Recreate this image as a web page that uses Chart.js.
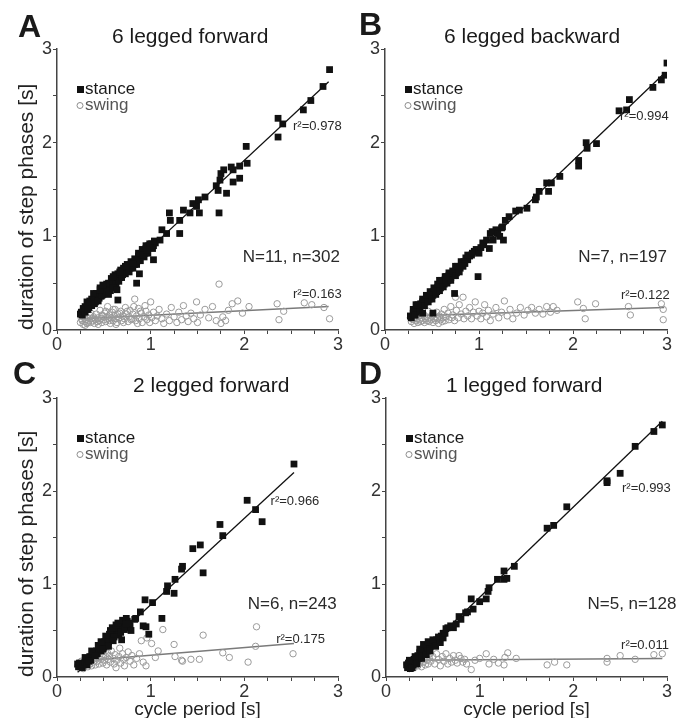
<!DOCTYPE html>
<html>
<head>
<meta charset="utf-8">
<script src="https://cdn.jsdelivr.net/npm/chart.js@4.4.1/dist/chart.umd.min.js"></script>
<style>
  body { margin: 0; background: #fff; }
  .panel { position: absolute; width: 346px; height: 359px; }
</style>
</head>
<body>
<div class="panel" style="left:0;top:0"><canvas id="pA"></canvas></div>
<div class="panel" style="left:346px;top:0"><canvas id="pB"></canvas></div>
<div class="panel" style="left:0;top:359px"><canvas id="pC"></canvas></div>
<div class="panel" style="left:346px;top:359px"><canvas id="pD"></canvas></div>
<script>
// tick labels shown on both axes
const tickLabels = [0, 1, 2, 3];

// panel A: 6 legged forward
const stanceA = [[0.25,0.17],[0.26,0.19],[0.27,0.16],[0.28,0.20],[0.29,0.22],[0.30,0.19],[0.31,0.24],[0.32,0.22],[0.33,0.26],[0.34,0.24],[0.35,0.27],[0.36,0.29],[0.37,0.26],[0.38,0.31],[0.39,0.29],[0.40,0.33],[0.41,0.30],[0.42,0.35],[0.43,0.32],[0.44,0.37],[0.45,0.34],[0.46,0.39],[0.47,0.36],[0.48,0.41],[0.49,0.38],[0.50,0.43],[0.51,0.40],[0.52,0.45],[0.53,0.42],[0.54,0.47],[0.55,0.44],[0.56,0.49],[0.57,0.46],[0.58,0.51],[0.59,0.48],[0.60,0.53],[0.61,0.51],[0.62,0.55],[0.63,0.52],[0.64,0.57],[0.65,0.54],[0.66,0.58],[0.67,0.56],[0.68,0.60],[0.70,0.59],[0.71,0.63],[0.72,0.61],[0.74,0.65],[0.75,0.63],[0.76,0.67],[0.78,0.66],[0.79,0.70],[0.80,0.68],[0.82,0.72],[0.83,0.70],[0.84,0.75],[0.86,0.74],[0.87,0.79],[0.88,0.77],[0.90,0.81],[0.91,0.79],[0.92,0.84],[0.94,0.82],[0.95,0.87],[0.96,0.85],[0.98,0.90],[1.00,0.88],[1.01,0.92],[1.03,0.90],[1.05,0.93],
  [0.28,0.23],[0.30,0.25],[0.33,0.22],[0.35,0.31],[0.37,0.33],[0.40,0.28],[0.42,0.39],[0.44,0.31],[0.46,0.45],[0.48,0.37],[0.50,0.47],[0.52,0.41],[0.53,0.49],[0.55,0.50],[0.57,0.42],[0.58,0.55],[0.60,0.49],[0.62,0.59],[0.63,0.48],[0.65,0.60],[0.66,0.52],[0.68,0.64],[0.69,0.56],[0.71,0.66],[0.73,0.60],[0.75,0.70],[0.77,0.62],[0.79,0.73],[0.81,0.66],[0.83,0.76],[0.85,0.70],[0.87,0.82],[0.89,0.74],[0.91,0.86],[0.93,0.78],[0.95,0.90],[0.97,0.82],[0.99,0.92],[1.02,0.87],[1.04,0.95],[0.55,0.38],[0.60,0.45],
  [0.32,0.30],[0.39,0.39],[0.46,0.43],[0.49,0.48],[0.60,0.57],[0.64,0.43],[0.65,0.32],[0.67,0.62],[0.73,0.68],[0.81,0.71],[0.85,0.50],[0.88,0.60],[0.92,0.80],[0.96,0.85],[1.03,0.75],[1.10,0.96],[1.12,1.07],[1.17,1.03],[1.20,1.25],[1.21,1.17],[1.31,1.17],[1.31,1.03],[1.35,1.28],[1.42,1.25],[1.45,1.35],[1.49,1.32],[1.51,1.39],[1.52,1.25],[1.58,1.42],[1.70,1.54],[1.72,1.49],[1.73,1.25],[1.74,1.60],[1.75,1.67],[1.78,1.71],[1.81,1.46],[1.86,1.74],[1.88,1.71],[1.88,1.58],[1.95,1.75],[1.95,1.62],[2.02,1.96],[2.03,1.78],[2.36,2.26],[2.41,2.20],[2.36,2.06],[2.63,2.35],[2.71,2.45],[2.84,2.60],[2.91,2.78]];
const swingA = [[0.25,0.08],[0.26,0.12],[0.27,0.10],[0.28,0.06],[0.29,0.14],[0.30,0.09],[0.31,0.11],[0.32,0.07],[0.33,0.13],[0.34,0.10],[0.35,0.16],[0.36,0.08],[0.37,0.12],[0.38,0.10],[0.39,0.14],[0.40,0.07],[0.41,0.11],[0.42,0.17],[0.43,0.09],[0.44,0.13],[0.45,0.10],[0.46,0.21],[0.47,0.12],[0.48,0.08],[0.49,0.15],[0.50,0.11],[0.51,0.18],[0.52,0.09],[0.53,0.14],[0.54,0.25],[0.55,0.12],[0.56,0.16],[0.57,0.07],[0.58,0.13],[0.59,0.19],[0.60,0.10],[0.61,0.15],[0.62,0.22],[0.63,0.12],[0.64,0.08],[0.65,0.17],[0.66,0.13],[0.68,0.20],[0.69,0.10],[0.70,0.15],[0.72,0.12],[0.73,0.24],[0.74,0.17],[0.76,0.09],[0.77,0.14],[0.78,0.21],[0.80,0.12],[0.81,0.17],[0.83,0.33],[0.84,0.10],[0.85,0.15],[0.87,0.23],[0.88,0.12],[0.90,0.18],[0.91,0.08],[0.93,0.14],[0.95,0.20],[0.96,0.11],[0.98,0.16],[1.00,0.30],[1.01,0.13],[1.03,0.19],[1.05,0.10],[1.07,0.15],[1.09,0.22],[1.12,0.12],[1.14,0.07],[1.17,0.17],[1.20,0.10],[1.22,0.24],[1.25,0.14],[1.28,0.08],[1.30,0.19],[1.33,0.11],[1.35,0.26],[1.38,0.15],[1.40,0.09],[1.43,0.18],[1.46,0.12],[1.49,0.30],[1.50,0.08],[1.53,0.16],[1.58,0.22],[1.62,0.13],[1.66,0.25],[1.70,0.10],[1.73,0.49],[1.75,0.07],[1.77,0.14],[1.80,0.10],[1.83,0.21],[1.87,0.28],[1.93,0.31],[1.98,0.18],[2.05,0.25],[2.35,0.28],[2.37,0.11],[2.42,0.20],[2.64,0.29],[2.72,0.27],[2.85,0.24],[2.91,0.12],
  [0.27,0.15],[0.30,0.05],[0.33,0.08],[0.36,0.18],[0.40,0.12],[0.44,0.06],[0.48,0.16],[0.52,0.20],[0.56,0.10],[0.60,0.22],[0.63,0.06],[0.67,0.18],[0.71,0.08],[0.75,0.20],[0.79,0.11],[0.82,0.25],[0.86,0.07],[0.89,0.20],[0.94,0.26],[0.99,0.08]];
const fitStanceA = [[0.25,0.18],[2.90,2.65]];
const fitSwingA = [[0.25,0.12],[2.90,0.25]];

// panel B: 6 legged backward
const stanceB = [[0.27,0.15],[0.28,0.13],[0.30,0.18],[0.31,0.16],[0.32,0.21],[0.33,0.19],[0.34,0.24],[0.35,0.22],[0.36,0.26],[0.37,0.24],[0.38,0.28],[0.39,0.26],[0.40,0.30],[0.41,0.28],[0.42,0.32],[0.43,0.30],[0.44,0.33],[0.45,0.31],[0.46,0.35],[0.47,0.33],[0.48,0.37],[0.49,0.35],[0.50,0.39],[0.51,0.37],[0.52,0.41],[0.53,0.39],[0.54,0.43],[0.55,0.41],[0.56,0.45],[0.57,0.43],[0.58,0.47],[0.59,0.45],[0.60,0.49],[0.61,0.47],[0.62,0.52],[0.63,0.49],[0.64,0.54],[0.65,0.51],[0.66,0.56],[0.67,0.53],[0.68,0.58],[0.70,0.56],[0.71,0.60],[0.73,0.58],[0.74,0.62],[0.76,0.61],[0.78,0.65],[0.80,0.66],[0.82,0.70],[0.84,0.73],[0.86,0.77],[0.88,0.75],[0.90,0.79],[0.92,0.80],[0.95,0.84],[0.97,0.86],
  [0.30,0.22],[0.32,0.16],[0.35,0.27],[0.37,0.20],[0.40,0.33],[0.42,0.26],[0.44,0.37],[0.46,0.30],[0.48,0.41],[0.50,0.33],[0.52,0.45],[0.54,0.38],[0.56,0.49],[0.58,0.42],[0.60,0.53],[0.62,0.46],[0.64,0.57],[0.66,0.50],[0.68,0.61],[0.70,0.53],[0.72,0.63],[0.75,0.58],[0.77,0.68],[0.79,0.62],[0.81,0.73],[0.85,0.71],[0.88,0.80],[0.93,0.82],
  [0.51,0.18],[0.40,0.18],[0.33,0.27],[0.58,0.53],[0.65,0.57],[0.74,0.39],[0.75,0.68],[0.83,0.68],[0.99,0.57],[1.00,0.82],[1.02,0.88],[1.04,0.93],[1.05,0.91],[1.08,0.96],[1.11,0.87],[1.12,1.03],[1.14,1.05],[1.15,0.96],[1.18,1.07],[1.20,1.03],[1.22,1.00],[1.24,1.09],[1.26,0.96],[1.25,1.10],[1.28,1.17],[1.32,1.21],[1.39,1.27],[1.43,1.28],[1.51,1.30],[1.60,1.39],[1.61,1.42],[1.64,1.48],[1.74,1.48],[1.72,1.57],[1.77,1.57],[1.86,1.64],[2.06,1.75],[2.06,1.81],[2.15,1.94],[2.14,2.00],[2.25,1.99],[2.49,2.34],[2.57,2.35],[2.60,2.46],[2.85,2.59],[2.94,2.67],[2.98,2.72],[3.00,2.85]];
const swingB = [[0.27,0.13],[0.28,0.09],[0.30,0.11],[0.31,0.07],[0.32,0.14],[0.33,0.10],[0.34,0.12],[0.35,0.08],[0.36,0.15],[0.37,0.11],[0.38,0.09],[0.39,0.13],[0.40,0.10],[0.41,0.17],[0.42,0.08],[0.43,0.12],[0.44,0.14],[0.45,0.10],[0.46,0.20],[0.47,0.09],[0.48,0.13],[0.49,0.11],[0.50,0.16],[0.51,0.08],[0.52,0.12],[0.53,0.14],[0.54,0.10],[0.55,0.19],[0.56,0.12],[0.57,0.07],[0.58,0.15],[0.59,0.11],[0.60,0.17],[0.61,0.09],[0.62,0.13],[0.63,0.22],[0.64,0.10],[0.65,0.14],[0.67,0.18],[0.68,0.11],[0.70,0.25],[0.71,0.13],[0.72,0.16],[0.74,0.10],[0.75,0.35],[0.76,0.21],[0.78,0.13],[0.79,0.27],[0.81,0.17],[0.83,0.35],[0.84,0.12],[0.86,0.20],[0.88,0.15],[0.90,0.24],[0.92,0.12],[0.94,0.19],[0.96,0.30],[0.98,0.15],[1.00,0.20],[1.02,0.12],[1.04,0.18],[1.06,0.27],[1.08,0.14],[1.10,0.21],[1.12,0.10],[1.15,0.17],[1.18,0.24],[1.21,0.13],[1.24,0.19],[1.27,0.31],[1.30,0.15],[1.33,0.22],[1.36,0.12],[1.40,0.18],[1.44,0.24],[1.48,0.16],[1.52,0.21],[1.56,0.24],[1.60,0.18],[1.64,0.22],[1.68,0.17],[1.72,0.25],[1.76,0.19],[1.79,0.25],[1.83,0.21],[2.05,0.30],[2.11,0.23],[2.13,0.12],[2.24,0.28],[2.59,0.25],[2.61,0.16],[2.94,0.28],[2.96,0.11],[2.96,0.22]];
const fitStanceB = [[0.25,0.13],[2.98,2.75]];
const fitSwingB = [[0.25,0.15],[2.97,0.24]];

// panel C: 2 legged forward
const stanceC = [[0.22,0.14],[0.23,0.11],[0.24,0.15],[0.25,0.12],[0.27,0.10],[0.28,0.14],[0.30,0.16],[0.32,0.13],[0.33,0.19],[0.35,0.22],[0.36,0.18],[0.38,0.25],[0.39,0.27],[0.40,0.23],[0.42,0.28],[0.43,0.25],[0.45,0.30],[0.46,0.33],[0.47,0.28],[0.48,0.35],[0.50,0.32],[0.51,0.38],[0.52,0.35],[0.53,0.41],[0.54,0.37],[0.55,0.43],[0.56,0.46],[0.57,0.40],[0.58,0.48],[0.59,0.44],[0.60,0.50],[0.61,0.46],[0.62,0.52],[0.63,0.48],[0.64,0.54],[0.65,0.50],[0.66,0.45],[0.67,0.56],[0.68,0.52],[0.70,0.55],[0.72,0.58],[0.73,0.53],[0.75,0.60],[0.76,0.56],[0.78,0.55],
  [0.30,0.21],[0.34,0.17],[0.37,0.28],[0.41,0.23],[0.44,0.34],[0.47,0.38],[0.49,0.30],[0.52,0.44],[0.55,0.38],[0.57,0.50],[0.59,0.53],[0.61,0.43],[0.63,0.56],[0.65,0.58],[0.68,0.48],[0.70,0.61],[0.72,0.51],[0.74,0.63],[0.77,0.58],[0.60,0.39],[0.55,0.33],
  [0.69,0.40],[0.74,0.57],[0.79,0.50],[0.83,0.62],[0.84,0.63],[0.89,0.70],[0.92,0.55],[0.95,0.54],[0.98,0.46],[0.94,0.83],[1.02,0.80],[1.12,0.63],[1.17,0.92],[1.18,0.98],[1.25,0.90],[1.26,1.05],[1.33,1.16],[1.34,1.19],[1.45,1.38],[1.53,1.42],[1.56,1.12],[1.74,1.64],[1.77,1.52],[2.03,1.90],[2.12,1.80],[2.19,1.67],[2.53,2.29]];
const swingC = [[0.22,0.12],[0.23,0.15],[0.24,0.10],[0.25,0.14],[0.26,0.17],[0.27,0.12],[0.28,0.09],[0.29,0.15],[0.30,0.19],[0.31,0.13],[0.32,0.16],[0.33,0.11],[0.34,0.21],[0.35,0.14],[0.36,0.18],[0.37,0.12],[0.38,0.23],[0.39,0.16],[0.40,0.20],[0.41,0.13],[0.42,0.25],[0.43,0.17],[0.44,0.21],[0.45,0.14],[0.46,0.27],[0.47,0.19],[0.48,0.23],[0.49,0.15],[0.50,0.29],[0.51,0.18],[0.52,0.22],[0.53,0.13],[0.54,0.26],[0.55,0.19],[0.56,0.23],[0.57,0.16],[0.58,0.28],[0.60,0.20],[0.61,0.14],[0.62,0.24],[0.63,0.10],[0.64,0.18],[0.66,0.22],[0.67,0.31],[0.68,0.15],[0.70,0.25],[0.71,0.19],[0.72,0.12],[0.74,0.21],[0.76,0.27],[0.78,0.17],[0.80,0.23],[0.82,0.13],[0.85,0.20],[0.88,0.25],[0.90,0.39],[0.92,0.16],[0.95,0.12],[0.96,0.42],[1.01,0.36],[1.05,0.21],[1.08,0.28],[1.13,0.51],[1.25,0.35],[1.26,0.22],[1.33,0.18],[1.34,0.17],[1.43,0.19],[1.52,0.19],[1.56,0.45],[1.77,0.26],[1.84,0.21],[2.04,0.16],[2.12,0.33],[2.13,0.54],[2.52,0.25]];
const fitStanceC = [[0.22,0.05],[2.53,2.20]];
const fitSwingC = [[0.22,0.17],[2.53,0.36]];

// panel D: 1 legged forward
const stanceD = [[0.22,0.13],[0.23,0.10],[0.24,0.15],[0.25,0.12],[0.26,0.09],[0.27,0.14],[0.28,0.17],[0.29,0.13],[0.30,0.19],[0.31,0.16],[0.32,0.21],[0.33,0.18],[0.34,0.23],[0.35,0.20],[0.36,0.26],[0.37,0.22],[0.38,0.28],[0.39,0.24],[0.40,0.30],[0.41,0.27],[0.42,0.32],[0.43,0.29],[0.44,0.34],[0.45,0.31],[0.46,0.36],[0.47,0.33],[0.48,0.37],[0.49,0.35],[0.50,0.36],[0.51,0.34],[0.52,0.38],[0.54,0.40],[0.55,0.37],[0.57,0.42],[0.59,0.44],[0.60,0.43],[0.61,0.47],
  [0.25,0.18],[0.28,0.10],[0.31,0.22],[0.33,0.14],[0.36,0.30],[0.38,0.20],[0.40,0.35],[0.43,0.24],[0.45,0.38],[0.47,0.28],[0.50,0.40],[0.53,0.33],[0.56,0.43],[0.58,0.37],[0.61,0.42],[0.63,0.47],[0.66,0.53],[0.72,0.53],
  [0.64,0.52],[0.69,0.55],[0.75,0.57],[0.78,0.65],[0.80,0.62],[0.85,0.69],[0.87,0.70],[0.91,0.84],[0.93,0.73],[1.00,0.81],[1.07,0.84],[1.09,0.92],[1.10,0.96],[1.19,1.05],[1.26,1.05],[1.29,1.06],[1.26,1.14],[1.37,1.19],[1.72,1.60],[1.79,1.63],[1.93,1.83],[2.36,2.09],[2.36,2.11],[2.50,2.19],[2.66,2.48],[2.86,2.64],[2.95,2.71]];
const swingD = [[0.22,0.14],[0.23,0.11],[0.24,0.16],[0.25,0.09],[0.26,0.13],[0.27,0.18],[0.28,0.12],[0.29,0.15],[0.30,0.10],[0.31,0.20],[0.32,0.14],[0.33,0.17],[0.34,0.12],[0.35,0.22],[0.36,0.15],[0.37,0.19],[0.38,0.11],[0.39,0.24],[0.40,0.16],[0.41,0.20],[0.42,0.13],[0.43,0.26],[0.44,0.18],[0.45,0.14],[0.46,0.21],[0.47,0.25],[0.48,0.17],[0.50,0.22],[0.52,0.14],[0.54,0.25],[0.56,0.19],[0.58,0.12],[0.60,0.22],[0.62,0.17],[0.64,0.25],[0.66,0.14],[0.68,0.20],[0.70,0.16],[0.72,0.23],[0.74,0.18],[0.76,0.15],[0.78,0.23],[0.80,0.20],[0.82,0.16],[0.84,0.19],[0.86,0.14],[0.91,0.08],[0.95,0.18],[1.00,0.20],[1.07,0.25],[1.10,0.14],[1.15,0.19],[1.20,0.15],[1.26,0.13],[1.27,0.21],[1.30,0.26],[1.39,0.20],[1.72,0.13],[1.80,0.16],[1.93,0.13],[2.36,0.16],[2.36,0.20],[2.50,0.23],[2.66,0.19],[2.86,0.24],[2.95,0.25]];
const fitStanceD = [[0.22,0.10],[2.95,2.75]];
const fitSwingD = [[0.22,0.18],[2.95,0.20]];

const panelLetters = ['A', 'B', 'C', 'D'];
const panelTitles = ['6 legged forward', '6 legged backward', '2 legged forward', '1 legged forward'];
const r2Stance = ['r²=0.978', 'r²=0.994', 'r²=0.966', 'r²=0.993'];
const r2Swing = ['r²=0.163', 'r²=0.122', 'r²=0.175', 'r²=0.011'];
const sampleText = ['N=11, n=302', 'N=7, n=197', 'N=6, n=243', 'N=5, n=128'];

const FONT = '"Liberation Sans", Arial, Helvetica, sans-serif';

const panelText = {
  id: 'panelText',
  afterDraw(chart, args, o) {
    const {ctx, chartArea: a, scales: {x, y}} = chart;
    ctx.save();
    ctx.fillStyle = '#1a1a1a';
    ctx.textBaseline = 'alphabetic';
    ctx.textAlign = 'left';
    ctx.font = 'bold 32px ' + FONT;
    ctx.fillText(o.letter, o.letterPos[0], o.letterPos[1]);
    ctx.font = '21px ' + FONT;
    ctx.fillText(o.title, o.titlePos[0], o.titlePos[1]);

    // legend
    ctx.fillStyle = '#111';
    ctx.fillRect(a.left + 20, a.top + 37, 7, 7);
    ctx.beginPath();
    ctx.arc(a.left + 23, a.top + 56.5, 3, 0, Math.PI * 2);
    ctx.strokeStyle = '#8c8c8c';
    ctx.lineWidth = 1;
    ctx.stroke();
    ctx.font = '17px ' + FONT;
    ctx.fillStyle = '#1a1a1a';
    ctx.fillText('stance', a.left + 28, a.top + 45);
    ctx.fillStyle = '#555';
    ctx.fillText('swing', a.left + 28, a.top + 61);

    // annotations
    ctx.fillStyle = '#2a2a2a';
    ctx.font = '13px ' + FONT;
    ctx.fillText(o.r2s, x.getPixelForValue(o.r2sPos[0]), y.getPixelForValue(o.r2sPos[1]));
    ctx.fillText(o.r2w, x.getPixelForValue(o.r2wPos[0]), y.getPixelForValue(o.r2wPos[1]));
    ctx.font = '17px ' + FONT;
    ctx.textAlign = 'right';
    ctx.fillText(o.info, x.getPixelForValue(o.infoPos[0]), y.getPixelForValue(o.infoPos[1]));
    ctx.restore();
  }
};

function pts(arr) { return arr.map(p => ({x: p[0], y: p[1]})); }

function makePanel(id, i, stance, swing, fitS, fitW, lay) {
  new Chart(document.getElementById(id), {
    type: 'scatter',
    data: {
      datasets: [
        { data: pts(stance), pointStyle: 'rect', pointRadius: 4.8, backgroundColor: '#111', borderColor: '#111', borderWidth: 0 },
        { data: pts(swing), pointStyle: 'circle', pointRadius: 3.2, backgroundColor: 'rgba(0,0,0,0)', borderColor: '#9a9a9a', borderWidth: 1 },
        { data: pts(fitS), showLine: true, pointRadius: 0, borderColor: '#111', borderWidth: 1.3 },
        { data: pts(fitW), showLine: true, pointRadius: 0, borderColor: '#7a7a7a', borderWidth: 1.5 }
      ]
    },
    options: {
      responsive: false,
      animation: false,
      events: [],
      layout: { padding: { top: lay.top, right: lay.right, left: 0, bottom: 0 } },
      plugins: {
        legend: { display: false },
        tooltip: { enabled: false },
        panelText: {
          letter: panelLetters[i], title: panelTitles[i],
          letterPos: lay.letterPos, titlePos: lay.titlePos,
          r2s: r2Stance[i], r2w: r2Swing[i], info: sampleText[i],
          r2sPos: lay.r2sPos, r2wPos: lay.r2wPos, infoPos: lay.infoPos
        }
      },
      scales: {
        x: {
          type: 'linear', min: 0, max: 3,
          afterFit: s => { s.height = lay.xh; },
          border: { color: '#444', width: 1.5 },
          grid: { drawOnChartArea: false, drawTicks: true, tickLength: 4, color: '#444' },
          ticks: {
            stepSize: 0.25, autoSkip: false, maxRotation: 0, padding: 0,
            color: '#333', font: { family: FONT, size: 18 },
            callback: v => tickLabels.includes(v) ? String(v) : ''
          },
          title: {
            display: lay.xTitle, text: 'cycle period [s]', color: '#222',
            font: { family: FONT, size: 19, lineHeight: 1 }, padding: { top: 0, bottom: -1.5 }
          }
        },
        y: {
          type: 'linear', min: 0, max: 3,
          afterFit: s => { s.width = lay.yw; },
          border: { color: '#444', width: 1.5 },
          grid: { drawOnChartArea: false, drawTicks: true, tickLength: 4, color: '#444' },
          ticks: {
            stepSize: 0.5, autoSkip: false, padding: 1,
            color: '#333', font: { family: FONT, size: 18 },
            callback: v => tickLabels.includes(v) ? String(v) : ''
          },
          title: {
            display: lay.yTitle, text: 'duration of step phases [s]', color: '#222', align: 'start',
            font: { family: FONT, size: 21, lineHeight: 1.2 }, padding: { top: 15, bottom: 0 }
          }
        }
      }
    },
    plugins: [panelText]
  });
}

function setup(id) {
  const c = document.getElementById(id);
  c.width = 346; c.height = 359;
  c.style.width = '346px'; c.style.height = '359px';
}
['pA', 'pB', 'pC', 'pD'].forEach(setup);

makePanel('pA', 0, stanceA, swingA, fitStanceA, fitSwingA, {
  top: 49, right: 8, yw: 57, xh: 29, xTitle: false, yTitle: true,
  letterPos: [18, 37], titlePos: [112, 43],
  r2sPos: [2.52, 2.13], r2wPos: [2.52, 0.345], infoPos: [3.02, 0.73]
});
makePanel('pB', 1, stanceB, swingB, fitStanceB, fitSwingB, {
  top: 49, right: 25, yw: 39, xh: 29, xTitle: false, yTitle: false,
  letterPos: [13, 35], titlePos: [98, 43],
  r2sPos: [2.50, 2.24], r2wPos: [2.51, 0.33], infoPos: [3.0, 0.73]
});
makePanel('pC', 2, stanceC, swingC, fitStanceC, fitSwingC, {
  top: 39, right: 8, yw: 57, xh: 41, xTitle: true, yTitle: true,
  letterPos: [13, 25], titlePos: [133, 33],
  r2sPos: [2.28, 1.85], r2wPos: [2.34, 0.37], infoPos: [2.985, 0.73]
});
makePanel('pD', 3, stanceD, swingD, fitStanceD, fitSwingD, {
  top: 39, right: 25, yw: 40, xh: 41, xTitle: true, yTitle: false,
  letterPos: [13, 25], titlePos: [100, 33],
  r2sPos: [2.52, 1.99], r2wPos: [2.51, 0.30], infoPos: [3.10, 0.73]
});
</script>
</body>
</html>
